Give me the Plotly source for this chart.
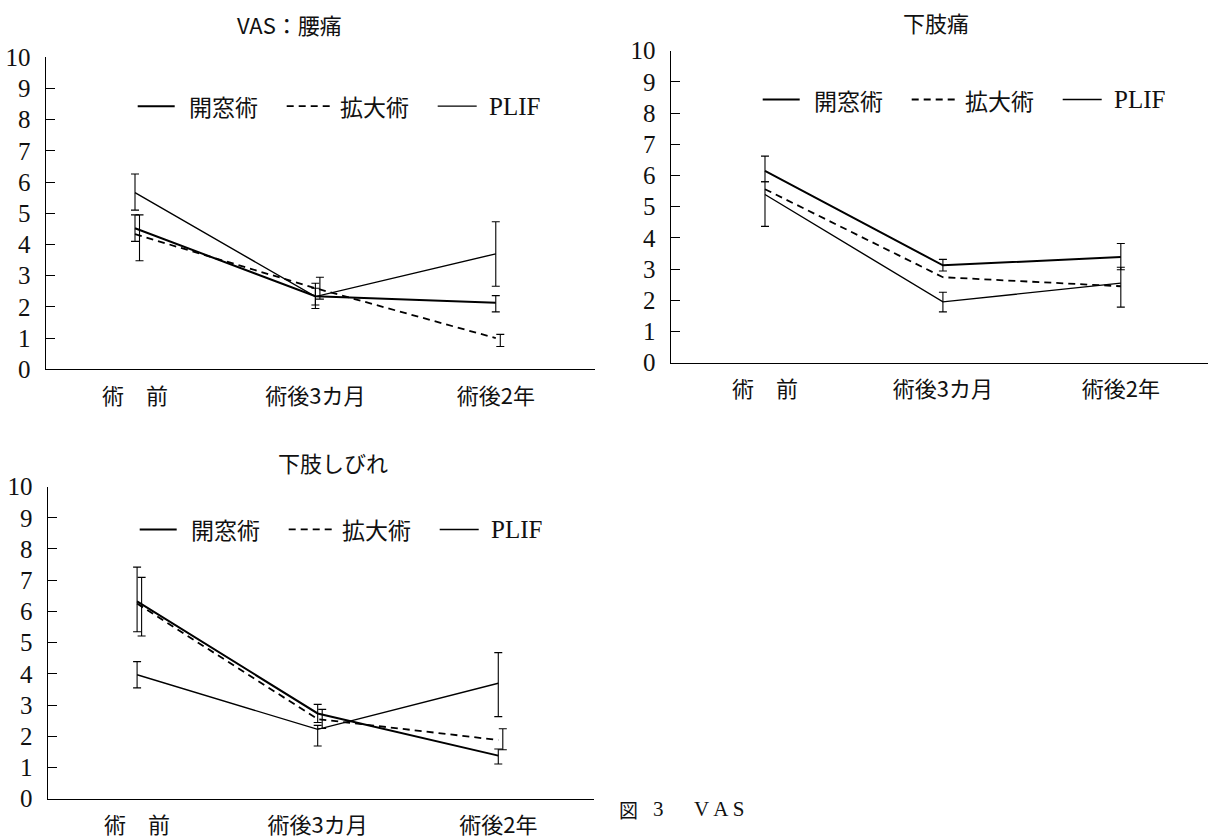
import plotly.graph_objects as go

W, H = 1208, 839

STAGES = ["術　前", "術後3カ月", "術後2年"]
GROUPS = ["開窓術", "拡大術", "PLIF"]

# VAS：腰痛 — rows follow GROUPS; None = no error bar drawn
lbp_mean = [[4.52, 2.34, 2.13], [4.33, 2.60, 1.00], [5.66, 2.33, 3.70]]
lbp_err_up = [[0.43, 0.42, 0.23], [0.62, 0.35, 0.12], [0.60, 0.27, 1.03]]
lbp_err_down = [[0.42, 0.39, 0.29], [0.85, 0.35, 0.27], [0.56, 0.27, 1.04]]

# 下肢痛
leg_mean = [[6.15, 3.12, 3.39], [5.56, 2.74, 2.45], [5.39, 1.95, 2.55]]
leg_err_up = [[0.47, 0.19, 0.43], [None, None, None], [0.41, 0.31, 0.51]]
leg_err_down = [[0.35, 0.18, 0.41], [None, None, None], [1.02, 0.32, 0.77]]

# 下肢しびれ
numb_mean = [[6.32, 2.73, 1.38], [6.25, 2.55, 1.88], [3.97, 2.22, 3.70]]
numb_err_up = [[1.10, 0.29, 0.21], [0.84, 0.31, 0.36], [0.42, 0.13, 0.98]]
numb_err_down = [[0.97, 0.29, 0.27], [1.04, 0.30, 0.31], [0.42, 0.53, 1.07]]

Y_TICKS = list(range(0, 11))

# line style per group (width, dash) and small horizontal shift of its error bars
GROUP_WIDTH = [2.0, 1.8, 1.4]
GROUP_DASH = ["solid", "7px,5px", "solid"]
GROUP_BAR_SHIFT = [0.0, 0.025, 0.0]

JP = "Noto Sans CJK JP"
SERIF = "Liberation Serif"
INK = "#111111"


def fx(x):
    return x / W


def fy(y):
    return 1 - y / H


# pixel frame of each panel: y-axis x, right end of x-axis, y of value 0, y of value 10,
# x range in category units, title centre, legend row y
panels = [
    dict(title="VAS：腰痛", mean=lbp_mean, up=lbp_err_up, down=lbp_err_down,
         left=45.7, right=595, y0=372.3, y10=46.2, xr=[-0.495, 2.55],
         title_xy=(289, 12), legend_y=97.3),
    dict(title="下肢痛", mean=leg_mean, up=leg_err_up, down=leg_err_down,
         left=670.7, right=1208, y0=365.4, y10=39.3, xr=[-0.53, 2.49],
         title_xy=(936, 9), legend_y=90.4),
    dict(title="下肢しびれ", mean=numb_mean, up=numb_err_up, down=numb_err_down,
         left=47.7, right=594, y0=820.9, y10=494.8, xr=[-0.495, 2.53],
         title_xy=(333, 469.3), legend_y=539.6),
]

# legend layout relative to the panel's y-axis: (line start, line end, text start)
LEGEND_SLOTS = [(92, 129, 141), (241, 285, 292), (392, 431, 441)]

fig = go.Figure()
shapes = []
annotations = []
layout_axes = {}

for p_i, p in enumerate(panels):
    sfx = "" if p_i == 0 else str(p_i + 1)
    xa, ya = "x" + sfx, "y" + sfx
    for g_i, g in enumerate(GROUPS):
        fig.add_trace(go.Scatter(
            x=list(range(len(STAGES))), y=p["mean"][g_i], mode="lines",
            line=dict(color="black", width=GROUP_WIDTH[g_i], dash=GROUP_DASH[g_i]),
            xaxis=xa, yaxis=ya, name=g, hoverinfo="skip",
        ))
        idx = [k for k in range(len(STAGES)) if p["up"][g_i][k] is not None]
        if idx:
            fig.add_trace(go.Scatter(
                x=[k + GROUP_BAR_SHIFT[g_i] for k in idx],
                y=[p["mean"][g_i][k] for k in idx],
                mode="markers", marker=dict(size=1, color="rgba(0,0,0,0)"),
                error_y=dict(type="data", symmetric=False,
                             array=[p["up"][g_i][k] for k in idx],
                             arrayminus=[p["down"][g_i][k] for k in idx],
                             color="black", thickness=1.1, width=4),
                xaxis=xa, yaxis=ya, name=g, hoverinfo="skip",
            ))

    layout_axes["xaxis" + sfx] = dict(
        domain=[fx(p["left"]), fx(p["right"])], range=p["xr"], anchor=ya,
        tickmode="array", tickvals=list(range(len(STAGES))), ticktext=STAGES,
        showline=True, linecolor="black", linewidth=1.4, ticks="",
        showgrid=False, zeroline=False, ticklabelstandoff=7,
        tickfont=dict(family=JP, size=22, color=INK), fixedrange=True,
    )
    layout_axes["yaxis" + sfx] = dict(
        domain=[fy(p["y0"]), fy(p["y10"])], range=[0, 10], anchor=xa,
        tickmode="array", tickvals=Y_TICKS,
        showline=True, linecolor="black", linewidth=1.4,
        ticks="inside", ticklen=9, tickwidth=1.2, tickcolor="black",
        showgrid=False, zeroline=False, ticklabelstandoff=9,
        tickfont=dict(family=SERIF, size=25, color=INK), fixedrange=True,
    )

    tx, ty = p["title_xy"]
    annotations.append(dict(
        text=p["title"], x=fx(tx), y=fy(ty), xref="paper", yref="paper",
        xanchor="center", yanchor="middle", showarrow=False,
        font=dict(family=JP, size=22, color=INK),
    ))

    ly = fy(p["legend_y"])
    for g_i, g in enumerate(GROUPS):
        x0, x1, xt = LEGEND_SLOTS[g_i]
        shapes.append(dict(
            type="line", xref="paper", yref="paper",
            x0=fx(p["left"] + x0), x1=fx(p["left"] + x1), y0=ly, y1=ly,
            line=dict(color="black", width=GROUP_WIDTH[g_i], dash=GROUP_DASH[g_i]),
        ))
        annotations.append(dict(
            text=g, x=fx(p["left"] + xt), y=ly, xref="paper", yref="paper",
            xanchor="left", yanchor="middle", showarrow=False,
            font=dict(family=SERIF if g == "PLIF" else JP,
                      size=25 if g == "PLIF" else 23, color=INK),
        ))

# figure caption
CAPTION_Y = 832
annotations.append(dict(text="図", x=fx(617), y=fy(CAPTION_Y), xref="paper", yref="paper",
                        xanchor="left", yanchor="middle", showarrow=False,
                        font=dict(family=JP, size=19, color=INK)))
annotations.append(dict(text="3", x=fx(651), y=fy(CAPTION_Y), xref="paper", yref="paper",
                        xanchor="left", yanchor="middle", showarrow=False,
                        font=dict(family=SERIF, size=21, color=INK)))
annotations.append(dict(text="V\u2009A\u2009S", x=fx(692), y=fy(CAPTION_Y), xref="paper",
                        yref="paper", xanchor="left", yanchor="middle", showarrow=False,
                        font=dict(family=SERIF, size=21, color=INK)))

fig.update_layout(
    width=W, height=H, margin=dict(l=0, r=0, t=0, b=0),
    paper_bgcolor="white", plot_bgcolor="white", showlegend=False,
    shapes=shapes, annotations=annotations, **layout_axes,
)

fig.write_html("out.html")
